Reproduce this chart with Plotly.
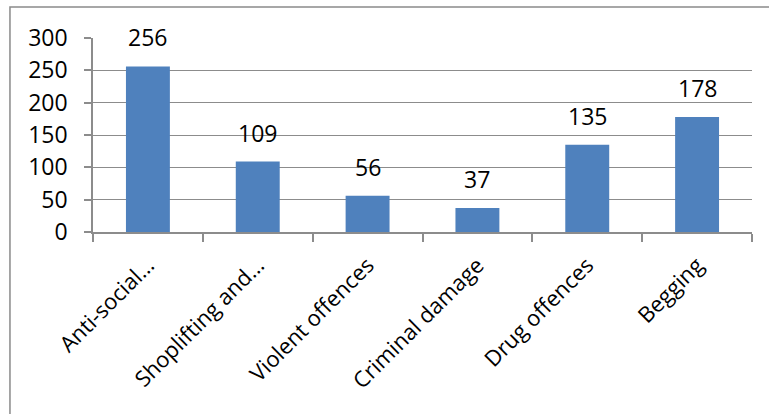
import plotly.graph_objects as go

categories = ["Anti-social…", "Shoplifting and…", "Violent offences",
              "Criminal damage", "Drug offences", "Begging"]
values = [256, 109, 56, 37, 135, 178]
y_ticks = [0, 50, 100, 150, 200, 250, 300]

BAR = "#4F81BD"
GRID = "#8C8C8C"
FONT = dict(family="Open Sans, Liberation Sans, sans-serif", size=23, color="#000000")
XFONT = dict(FONT, size=22)

fig = go.Figure(
    go.Bar(
        x=categories,
        y=values,
        marker=dict(color=BAR, line=dict(width=0)),
        hoverinfo="skip",
    )
)

# value labels sitting above each bar
for c, v in zip(categories, values):
    fig.add_annotation(
        x=c, y=v, text=str(v), showarrow=False,
        xanchor="center", yanchor="bottom", yshift=11,
        font=FONT,
    )

# chart frame
fig.add_shape(
    type="rect", xref="paper", yref="paper",
    x0=-0.126, x1=1.2, y0=-1.5, y1=1.16,
    line=dict(color="#8A8A8A", width=1.5), fillcolor="rgba(0,0,0,0)",
    layer="below",
)

fig.update_layout(
    width=769, height=414,
    margin=dict(l=93, r=17, t=38, b=182),
    paper_bgcolor="white", plot_bgcolor="white",
    bargap=0.6, showlegend=False,
    font=FONT,
    xaxis=dict(
        type="category", tickangle=-45, tickson="boundaries",
        ticks="outside", ticklen=8, tickcolor=GRID, tickwidth=1.5,
        showline=True, linecolor=GRID, linewidth=1.5,
        showgrid=False, tickfont=XFONT, ticklabelstandoff=10,
    ),
    yaxis=dict(
        range=[0, 300], tickvals=y_ticks, ticks="outside", ticklen=7,
        tickcolor=GRID, tickwidth=1.5,
        showline=True, linecolor=GRID, linewidth=1.5,
        showgrid=True, gridcolor=GRID, gridwidth=1,
        zeroline=False, tickfont=FONT, ticklabelstandoff=12,
    ),
)

fig.write_html("out.html")
